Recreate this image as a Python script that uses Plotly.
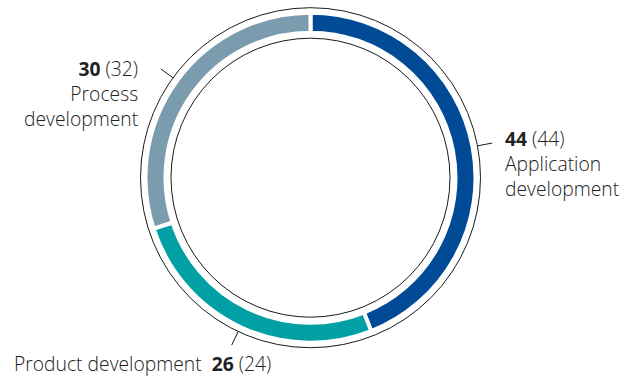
import math
import plotly.graph_objects as go

# Share of R&D spend by area (current year, previous year in brackets)
areas = ["Application development", "Product development", "Process development"]
shares = [44, 26, 30]
prev_shares = [44, 24, 32]
colors = ["#004a96", "#00a0a5", "#7a9cae"]

W, H = 633, 378
CX, CY = 310.5, 177.7          # ring centre in pixels (from top-left)
R_OUT, R_IN = 163, 147          # visible ring radii
GAP = 4                         # white separator width
R_OUTER_CIRCLE, R_INNER_CIRCLE = 170, 139.5
FONT_SIZE = 19.3


def px(x):
    return x / W


def py(y):
    return 1 - y / H


R_PIE = R_OUT + GAP / 2
R_HOLE = R_IN - GAP / 2

fig = go.Figure(
    go.Pie(
        values=shares,
        labels=areas,
        sort=False,
        direction="clockwise",
        rotation=0,
        hole=R_HOLE / R_PIE,
        marker=dict(colors=colors, line=dict(color="white", width=GAP)),
        textinfo="none",
        hoverinfo="skip",
        showlegend=False,
        domain=dict(
            x=[px(CX - R_PIE), px(CX + R_PIE)],
            y=[py(CY + R_PIE), py(CY - R_PIE)],
        ),
    )
)

shapes = []
for r in (R_OUTER_CIRCLE, R_INNER_CIRCLE):
    shapes.append(dict(
        type="circle", xref="paper", yref="paper",
        x0=px(CX - r), x1=px(CX + r), y0=py(CY + r), y1=py(CY - r),
        line=dict(color="#1a1a1a", width=1),
    ))

# radial leader lines at the middle of each segment
total = sum(shares)
acc = 0
for v in shares:
    mid = (acc + v / 2) / total * 2 * math.pi
    acc += v
    s, c = math.sin(mid), math.cos(mid)
    shapes.append(dict(
        type="line", xref="paper", yref="paper",
        x0=px(CX + R_OUTER_CIRCLE * s), y0=py(CY - R_OUTER_CIRCLE * c),
        x1=px(CX + 185 * s), y1=py(CY - 185 * c),
        line=dict(color="#1a1a1a", width=1),
    ))

font = dict(family="Open Sans", size=FONT_SIZE, color="#222222", weight=300)


def head(i):
    return f"<b>{shares[i]}</b> ({prev_shares[i]})"


def label(lines, x, mid_baseline, anchor):
    # block is centred on its middle line's x-height centre
    return dict(
        text="<br>".join(lines), x=px(x), y=py(mid_baseline - 0.33 * FONT_SIZE),
        xanchor=anchor, yanchor="middle", align=anchor,
    )


app_name = areas[0].split(" ")
proc_name = areas[2].split(" ")
annotations = [
    label([head(0)] + app_name, 503.5, 169.5, "left"),
    label([head(2)] + proc_name, 138.5, 100, "right"),
    label([f"{areas[1]}  {head(1)}"], 272, 370, "right"),
]
for a in annotations:
    a.update(xref="paper", yref="paper", showarrow=False, font=font,
             borderpad=0)

fig.update_layout(
    width=W, height=H,
    margin=dict(l=0, r=0, t=0, b=0),
    paper_bgcolor="white", plot_bgcolor="white",
    shapes=shapes, annotations=annotations,
)

fig.write_html("out.html")
